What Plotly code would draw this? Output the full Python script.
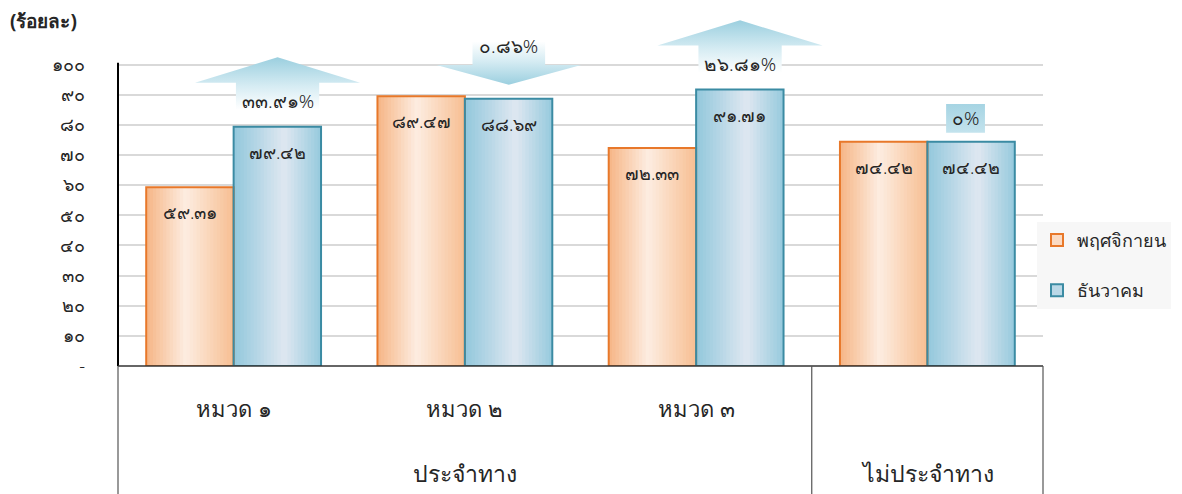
import plotly.graph_objects as go

# ---------------- data ----------------
sub_categories = ["หมวด ๑", "หมวด ๒", "หมวด ๓", ""]
group_labels = ["ประจำทาง", "ไม่ประจำทาง"]
group_first = [0, 3]
group_last = [2, 3]
series_names = ["พฤศจิกายน", "ธันวาคม"]
nov_values = [59.31, 89.47, 72.33, 74.42]
dec_values = [79.42, 88.69, 91.71, 74.42]
pct_change = [33.91, -0.86, 26.81, 0.0]
ytick_vals = [0, 10, 20, 30, 40, 50, 60, 70, 80, 90, 100]
ytick_text = ["-", "๑๐", "๒๐", "๓๐", "๔๐", "๕๐", "๖๐", "๗๐", "๘๐", "๙๐", "๑๐๐"]
y_title = "(ร้อยละ)"

THAI = str.maketrans("0123456789", "๐๑๒๓๔๕๖๗๘๙")


def th(s):
    return s.translate(THAI)


def fmt_val(v):
    return th(f"{v:.2f}")


def fmt_pct(p):
    if p == 0:
        return th("0%")
    return th(f"{abs(p):.2f}%")


# ---------------- style ----------------
FONT = "Noto Sans, DejaVu Sans, sans-serif"
TXT = "#262626"
LW = 300              # light text weight
BW = 0.378            # width of one bar (category units)
NSTRIPE = 26
ORANGE_STOPS = [(0.0, "#f6b585"), (0.45, "#fdede1"), (1.0, "#f7be92")]
BLUE_STOPS = [(0.0, "#92c8dc"), (0.58, "#dfe7f1"), (1.0, "#96cadd")]
ORANGE_LINE = "#e8782a"
BLUE_LINE = "#3b8ba3"


def hex2rgb(h):
    h = h.lstrip("#")
    return tuple(int(h[i:i + 2], 16) for i in (0, 2, 4))


def interp(stops, t):
    for (t0, c0), (t1, c1) in zip(stops[:-1], stops[1:]):
        if t0 <= t <= t1:
            a = (t - t0) / (t1 - t0)
            r0, g0, b0 = hex2rgb(c0)
            r1, g1, b1 = hex2rgb(c1)
            return "rgb(%d,%d,%d)" % (round(r0 + (r1 - r0) * a),
                                       round(g0 + (g1 - g0) * a),
                                       round(b0 + (b1 - b0) * a))
    return stops[-1][1]


xs = list(range(len(sub_categories)))
fig = go.Figure()

series = [
    (nov_values, ORANGE_STOPS, ORANGE_LINE, -BW),
    (dec_values, BLUE_STOPS, BLUE_LINE, 0.0),
]

# gradient stripes
for vals, stops, lcol, off0 in series:
    sw = BW / NSTRIPE
    for k in range(NSTRIPE):
        t = (k + 0.5) / NSTRIPE
        w = sw * 1.25 if k < NSTRIPE - 1 else sw
        fig.add_trace(go.Bar(
            x=xs, y=vals, offset=off0 + k * sw, width=w,
            marker=dict(color=interp(stops, t), line=dict(width=0)),
            showlegend=False, hoverinfo="skip"))

# outlines
for (vals, stops, lcol, off0), name in zip(series, series_names):
    fig.add_trace(go.Bar(
        x=xs, y=vals, offset=off0, width=BW,
        marker=dict(color="rgba(0,0,0,0)", line=dict(color=lcol, width=2)),
        showlegend=False, name=name,
        hovertemplate=name + ": %{y}<extra></extra>"))

# legend entries
for (vals, stops, lcol, off0), name in zip(series, series_names):
    fig.add_trace(go.Bar(
        x=[None], y=[None], name=name, legendgroup=name,
        marker=dict(color=interp(stops, 0.3), line=dict(color=lcol, width=2))))

# change arrows
ARROW_DX = 0.19
for i, (p, v) in enumerate(zip(pct_change, dec_values)):
    cx = i + ARROW_DX
    if p > 0:
        sw_, hw_ = 0.18, 0.357
        sb, hb, tip = v + 5.6, v + 14.6, v + 23.0
        px = [cx - sw_, cx - sw_, cx - hw_, cx, cx + hw_, cx + sw_, cx + sw_, cx - sw_]
        py = [sb, hb, hb, tip, hb, hb, sb, sb]
        grad = dict(type="vertical", start=sb, stop=tip,
                    colorscale=[[0, "#ffffff"], [0.45, "#d6ecf3"], [1, "#9bcfdf"]])
        ty = v + 8.5
    elif p < 0:
        sw_, hw_ = 0.157, 0.313
        tip, hb, st = v + 4.6, v + 11.2, v + 19.0
        px = [cx - sw_, cx - sw_, cx - hw_, cx, cx + hw_, cx + sw_, cx + sw_, cx - sw_]
        py = [st, hb, hb, tip, hb, hb, st, st]
        grad = dict(type="vertical", start=tip, stop=st,
                    colorscale=[[0, "#9bcfdf"], [0.55, "#d6ecf3"], [1, "#ffffff"]])
        ty = v + 17.5
    else:
        cx = i + 0.165
        hw_ = 0.084
        y0, y1 = v + 3.0, v + 12.5
        px = [cx - hw_, cx - hw_, cx + hw_, cx + hw_, cx - hw_]
        py = [y0, y1, y1, y0, y0]
        grad = dict(type="vertical", start=y0, stop=y1,
                    colorscale=[[0, "#c3e3ed"], [1, "#a6d4e3"]])
        ty = v + 7.9
    fig.add_trace(go.Scatter(
        x=px, y=py, mode="lines", fill="toself", line=dict(width=0),
        fillgradient=grad, showlegend=False, hoverinfo="skip"))
    fig.add_annotation(x=cx, y=ty, xref="x", yref="y", text=fmt_pct(p),
                       showarrow=False,
                       font=dict(size=19, color=TXT, family=FONT, weight=LW))

# value labels inside bars
for vals, stops, lcol, off0 in series:
    for i, v in enumerate(vals):
        fig.add_annotation(x=i + off0 + BW / 2, y=v, xref="x", yref="y",
                           text=fmt_val(v), showarrow=False, yanchor="middle",
                           yshift=-25,
                           font=dict(size=18, color=TXT, family=FONT, weight=LW))

# category labels
for i, c in enumerate(sub_categories):
    if c:
        fig.add_annotation(x=i, y=-0.168, xref="x", yref="paper", text=c,
                           showarrow=False,
                           font=dict(size=22, color=TXT, family=FONT, weight=LW))
for g, a, b in zip(group_labels, group_first, group_last):
    fig.add_annotation(x=(a + b) / 2, y=-0.355, xref="x", yref="paper", text=g,
                       showarrow=False,
                       font=dict(size=23, color=TXT, family=FONT, weight=LW))

fig.add_annotation(x=-0.119, y=0.98, xref="paper", yref="paper", text="<b>" + y_title + "</b>",
                   xanchor="left", yanchor="middle", showarrow=False,
                   font=dict(size=19, color=TXT, family=FONT))

# axis frame lines
fig.add_shape(type="line", xref="paper", yref="y", x0=0, x1=0, y0=0, y1=100.6,
              line=dict(color="#000000", width=2))
fig.add_shape(type="line", xref="paper", yref="paper", x0=0, x1=1, y0=0, y1=0,
              line=dict(color="#333333", width=1.5))
for xp in [0, 0.75, 1]:
    fig.add_shape(type="line", xref="paper", yref="paper", x0=xp, x1=xp, y0=0, y1=-0.4,
                  line=dict(color="#555555", width=1.2))

# the page body adds an 8px offset; size the figure so it fills the window
fig.update_layout(
    width=1174, height=486,
    margin=dict(l=110, r=139, t=6, b=128, autoexpand=False),
    paper_bgcolor="white", plot_bgcolor="white",
    barmode="overlay",
    font=dict(family=FONT, color=TXT),
    legend=dict(x=0.9935, xanchor="left", y=0.41, yanchor="top",
                bgcolor="#f7f7f7", font=dict(size=18, color=TXT, family=FONT, weight=LW),
                tracegroupgap=24, itemwidth=30),
    xaxis=dict(range=[-0.5, 3.5], showticklabels=False, showgrid=False,
               zeroline=False, showline=False, ticks=""),
    yaxis=dict(range=[0, 116.8], tickvals=ytick_vals, ticktext=ytick_text,
               showgrid=True, gridcolor="#d9d9d9", gridwidth=2, zeroline=False,
               showline=False, ticks="", ticklabelstandoff=32,
               tickfont=dict(size=18, color=TXT, family=FONT, weight=LW)),
)

fig.write_html("out.html")
